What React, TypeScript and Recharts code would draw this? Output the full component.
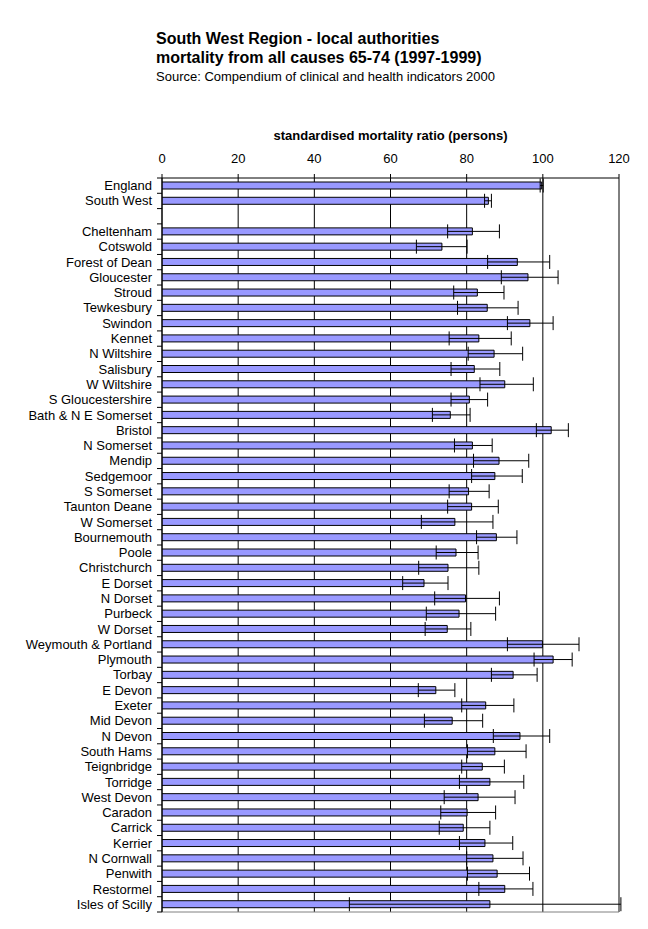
import React from 'react';
import { BarChart, Bar, XAxis, YAxis, CartesianGrid, ErrorBar, ReferenceLine } from 'recharts';

const FONT = '"Liberation Sans", Arial, sans-serif';

const categories = [
  'England', 'South West', ' ',
  'Cheltenham', 'Cotswold', 'Forest of Dean', 'Gloucester', 'Stroud', 'Tewkesbury',
  'Swindon', 'Kennet', 'N Wiltshire', 'Salisbury', 'W Wiltshire',
  'S Gloucestershire', 'Bath & N E Somerset', 'Bristol', 'N Somerset',
  'Mendip', 'Sedgemoor', 'S Somerset', 'Taunton Deane', 'W Somerset',
  'Bournemouth', 'Poole', 'Christchurch', 'E Dorset', 'N Dorset', 'Purbeck', 'W Dorset',
  'Weymouth & Portland', 'Plymouth', 'Torbay', 'E Devon', 'Exeter', 'Mid Devon',
  'N Devon', 'South Hams', 'Teignbridge', 'Torridge', 'West Devon',
  'Caradon', 'Carrick', 'Kerrier', 'N Cornwall', 'Penwith', 'Restormel', 'Isles of Scilly',
];

const smr: (number | null)[] = [
  99.7, 85.7, null,
  81.5, 73.5, 93.3, 96.1, 82.8, 85.4,
  96.6, 83.2, 87.2, 82.0, 90.0,
  80.7, 75.7, 102.2, 81.5,
  88.5, 87.4, 80.5, 81.3, 76.9,
  87.8, 77.2, 75.1, 68.8, 79.7, 78.0, 74.9,
  99.9, 102.7, 92.2, 71.9, 85.0, 76.2,
  94.0, 87.4, 84.1, 86.1, 83.0,
  80.1, 79.1, 84.8, 86.9, 88.0, 90.0, 86.1,
];

const lowerCI: (number | null)[] = [
  99.3, 84.7, null,
  75.0, 66.8, 85.5, 89.1, 76.6, 77.6,
  90.7, 75.4, 80.4, 75.9, 83.5,
  75.9, 71.0, 98.3, 76.8,
  81.8, 81.3, 75.4, 75.0, 68.1,
  82.6, 72.0, 67.4, 63.2, 71.6, 69.4, 69.1,
  90.7, 97.7, 86.5, 67.3, 78.7, 68.9,
  87.0, 80.2, 78.7, 78.1, 74.1,
  73.2, 72.8, 78.1, 80.0, 80.2, 83.2, 49.2,
];

const upperCI: (number | null)[] = [
  100.1, 86.5, null,
  88.6, 80.1, 101.8, 104.0, 89.8, 93.5,
  102.7, 91.7, 94.7, 88.7, 97.5,
  85.5, 80.9, 106.7, 86.7,
  96.3, 94.6, 85.9, 88.3, 86.9,
  93.2, 83.0, 83.2, 75.1, 88.6, 87.6, 81.1,
  109.5, 107.7, 98.5, 76.9, 92.4, 84.2,
  101.8, 95.6, 89.9, 95.0, 92.7,
  87.6, 86.1, 92.1, 94.8, 96.5, 97.4, 120.5,
];

const xTicks = [0, 20, 40, 60, 80, 100, 120];

const data = categories.map((name, i) => {
  const v = smr[i];
  const lo = lowerCI[i];
  const hi = upperCI[i];
  return {
    name,
    value: v,
    err: v == null || lo == null || hi == null ? null : [v - lo, hi - v],
  };
});

const YTick = (props: any) => {
  const { x, y, payload, index } = props;
  const off = payload && payload.offset ? payload.offset : 7.65;
  return (
    <g>
      <text
        x={x - 10}
        y={y}
        dy={4.5}
        textAnchor="end"
        fontSize={13}
        fontFamily={FONT}
        fill="#000"
      >
        {payload.value}
      </text>
      <line x1={x - 5} x2={x} y1={y + off} y2={y + off} stroke="#000" strokeWidth={1} />
      {index === 0 && (
        <line x1={x - 5} x2={x} y1={y - off} y2={y - off} stroke="#000" strokeWidth={1} />
      )}
    </g>
  );
};

export default function App() {
  return (
    <div
      style={{
        position: 'absolute',
        left: 0,
        top: 0,
        width: 648,
        height: 929,
        background: '#fff',
        fontFamily: FONT,
      }}
    >
      <div style={{ position: 'absolute', left: 156, top: 30.5, fontSize: 16, lineHeight: '16px', fontWeight: 'bold', whiteSpace: 'nowrap' }}>
        South West Region - local authorities
      </div>
      <div style={{ position: 'absolute', left: 156, top: 49.5, fontSize: 16, lineHeight: '16px', fontWeight: 'bold', whiteSpace: 'nowrap' }}>
        mortality from all causes 65-74 (1997-1999)
      </div>
      <div style={{ position: 'absolute', left: 156, top: 68.5, fontSize: 13, lineHeight: '16px', whiteSpace: 'nowrap' }}>
        Source: Compendium of clinical and health indicators 2000
      </div>
      <div style={{ position: 'absolute', left: 162, width: 457, top: 127.5, fontSize: 13, lineHeight: '16px', fontWeight: 'bold', textAlign: 'center', whiteSpace: 'nowrap' }}>
        standardised mortality ratio (persons)
      </div>
      <div style={{ position: 'absolute', left: 0, top: 0 }}>
        <BarChart
          width={648}
          height={929}
          data={data}
          layout="vertical"
          margin={{ top: 148, right: 29, bottom: 17, left: 0 }}
          barSize={7}
        >
          <CartesianGrid horizontal={false} stroke="#000" strokeWidth={1} />
          <CartesianGrid
            vertical={false}
            stroke="#808080"
            horizontalCoordinatesGenerator={(p: any) => [p.offset.top + p.offset.height]}
          />
          <XAxis
            type="number"
            domain={[0, 120]}
            ticks={xTicks}
            interval={0}
            orientation="top"
            height={30}
            allowDataOverflow
            tickSize={4}
            tickMargin={11}
            axisLine={{ stroke: '#000', strokeWidth: 1 }}
            tickLine={{ stroke: '#000', strokeWidth: 1 }}
            tick={{ fill: '#000', fontSize: 13, fontFamily: FONT }}
          />
          <YAxis
            type="category"
            dataKey="name"
            width={162}
            interval={0}
            tickLine={false}
            tickSize={0}
            tickMargin={0}
            axisLine={{ stroke: '#000', strokeWidth: 1 }}
            tick={(p: any) => <YTick {...p} />}
          />
          <ReferenceLine x={120} stroke="#808080" strokeWidth={1} />
          <Bar
            dataKey="value"
            fill="#9999FF"
            stroke="#000"
            strokeWidth={1}
            isAnimationActive={false}
          >
            <ErrorBar
              dataKey="err"
              direction="x"
              width={7}
              stroke="#000"
              strokeWidth={1}
              isAnimationActive={false}
            />
          </Bar>
        </BarChart>
      </div>
    </div>
  );
}
